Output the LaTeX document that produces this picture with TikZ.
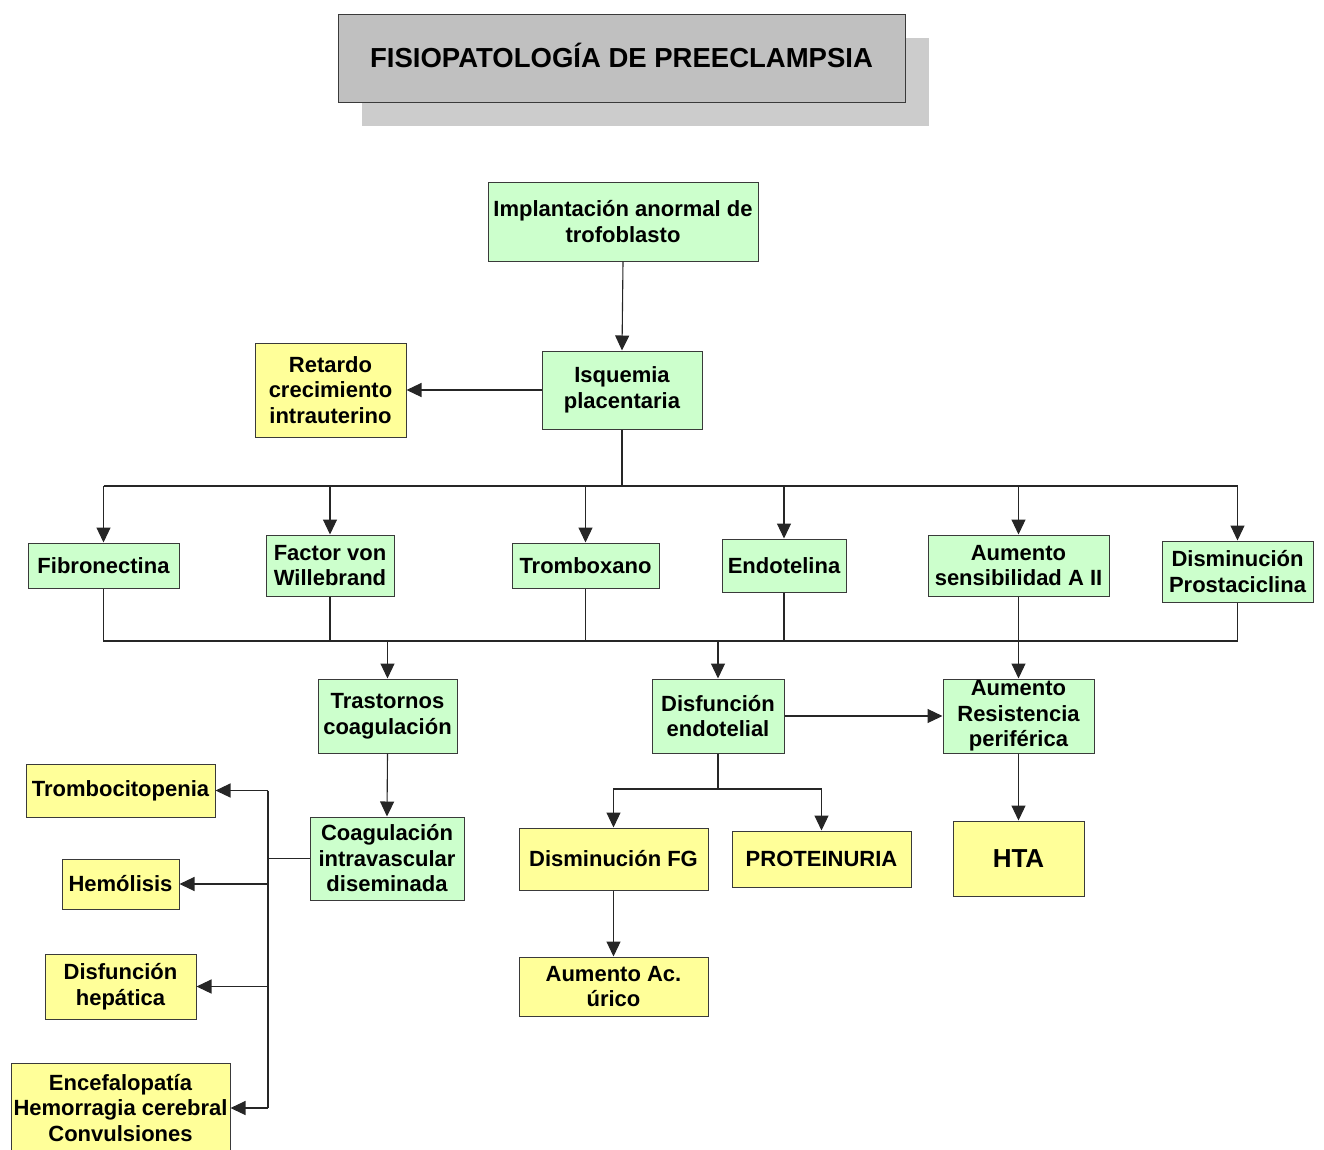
\documentclass[tikz,border=0pt]{standalone}
\usepackage{fontspec}
\setmainfont{Liberation Sans}
\usetikzlibrary{arrows.meta}
\definecolor{boxgreen}{HTML}{CCFFCC}
\definecolor{boxyellow}{HTML}{FFFF99}
\definecolor{titlegray}{HTML}{C0C0C0}
\definecolor{shadowgray}{HTML}{CCCCCC}
\definecolor{edge}{HTML}{3A3A3A}
\begin{document}
\begin{tikzpicture}[x=1pt,y=-1pt,
  base/.style={draw=edge,line width=1pt,inner sep=0pt,align=center,
    font=\fontsize{22}{25.5}\selectfont\bfseries},
  gbox/.style={base,fill=boxgreen},
  ybox/.style={base,fill=boxyellow},
  conn/.style={line width=1.1pt,draw=black!85},
  arr/.style={conn,-{Triangle[length=15pt,width=14pt]}}]
\clip (0,0) rectangle (1324,1149);
\useasboundingbox (0,0) rectangle (1324,1149);

% title with drop shadow
\fill[shadowgray] (362,38) rectangle (929,126);
\node[base,fill=titlegray,minimum width=567,minimum height=88,
  font=\fontsize{27.5}{30}\selectfont\bfseries] (title) at (621.5,58)
  {\raisebox{-9pt}[0pt][0pt]{FISIOPATOLOGÍA DE PREECLAMPSIA}};

% first levels
\node[gbox,minimum width=270,minimum height=79] (impl) at (623,221.5) {Implantación anormal de\\trofoblasto};
\node[gbox,minimum width=160,minimum height=78] (isq) at (622,390) {Isquemia\\placentaria};
\node[ybox,minimum width=151,minimum height=94] (ret) at (330.5,390) {Retardo\\crecimiento\\intrauterino};

% mediators
\node[gbox,minimum width=151,minimum height=45] (fib) at (103.5,565.5) {Fibronectina};
\node[gbox,minimum width=128,minimum height=61] (vwf) at (330,565.5) {Factor von\\Willebrand};
\node[gbox,minimum width=147,minimum height=45] (trom) at (585.5,565.5) {Tromboxano};
\node[gbox,minimum width=124,minimum height=53] (endo) at (784,565.5) {Endotelina};
\node[gbox,minimum width=181,minimum height=61] (aii) at (1018.5,565.5) {Aumento\\sensibilidad A II};
\node[gbox,minimum width=151,minimum height=61] (prost) at (1237.5,571.5) {Disminución\\Prostaciclina};

% consequences
\node[gbox,minimum width=139,minimum height=74] (trast) at (387.5,716) {Trastornos\\coagulación};
\node[gbox,minimum width=132,minimum height=74] (disf) at (718,716) {Disfunción\\endotelial};
\node[gbox,minimum width=151,minimum height=74] (resist) at (1018.5,716) {Aumento\\Resistencia\\periférica};
\node[gbox,minimum width=154,minimum height=83] (coag) at (387,858.5) {Coagulación\\intravascular\\diseminada};

% clinical findings
\node[ybox,minimum width=189,minimum height=53] (tromb) at (120.5,790.5) {Trombocitopenia};
\node[ybox,minimum width=117,minimum height=50] (hemo) at (120.5,884) {Hemólisis};
\node[ybox,minimum width=151,minimum height=65] (hep) at (120.5,986.5) {Disfunción\\hepática};
\node[ybox,minimum width=219,minimum height=90] (ence) at (120.5,1108) {Encefalopatía\\Hemorragia cerebral\\Convulsiones};
\node[ybox,minimum width=189,minimum height=62] (dfg) at (613.5,859) {Disminución FG};
\node[ybox,minimum width=179,minimum height=56] (prot) at (821.5,859) {PROTEINURIA};
\node[ybox,minimum width=131,minimum height=75,
  font=\fontsize{26}{30}\selectfont\bfseries] (hta) at (1018.5,858.5) {HTA};
\node[ybox,minimum width=189,minimum height=59] (acu) at (613.5,986.5) {Aumento Ac.\\úrico};

% bus lines
\coordinate (b1) at (0,486);
\coordinate (b2) at (0,641);
\coordinate (b3) at (0,789);
\coordinate (b4) at (268,0);

\draw[arr] (impl.south) -- (isq.north);
\draw[arr] (isq.west) -- (ret.east);

% upper distribution bus
\draw[conn] (isq.south) -- (isq.south |- b1);
\draw[conn] (fib.north |- b1) -- (prost.north |- b1);
\foreach \n in {fib,vwf,trom,endo,aii,prost}
  \draw[arr] (\n.north |- b1) -- (\n.north);

% lower collecting bus
\draw[conn] (fib.south) |- (prost.south |- b2) -- (prost.south);
\foreach \n in {vwf,trom,endo}
  \draw[conn] (\n.south) -- (\n.south |- b2);
\draw[arr] (aii.south) -- (resist.north);
\draw[arr] (trast.north |- b2) -- (trast.north);
\draw[arr] (disf.north |- b2) -- (disf.north);

\draw[arr] (disf.east) -- (resist.west);
\draw[arr] (resist.south) -- (hta.north);

% endothelial branch
\draw[conn] (disf.south) -- (disf.south |- b3);
\draw[arr] (disf.south |- b3) -| (dfg.north);
\draw[arr] (disf.south |- b3) -| (prot.north);
\draw[arr] (dfg.south) -- (acu.north);

% coagulation branch
\draw[arr] (trast.south) -- (coag.north);
\draw[conn] (coag.west) -- (coag.west -| b4);
\draw[conn] (b4 |- tromb.east) -- (b4 |- ence.east);
\foreach \n in {tromb,hemo,hep,ence}
  \draw[arr] (b4 |- \n.east) -- (\n.east);
\end{tikzpicture}
\end{document}
